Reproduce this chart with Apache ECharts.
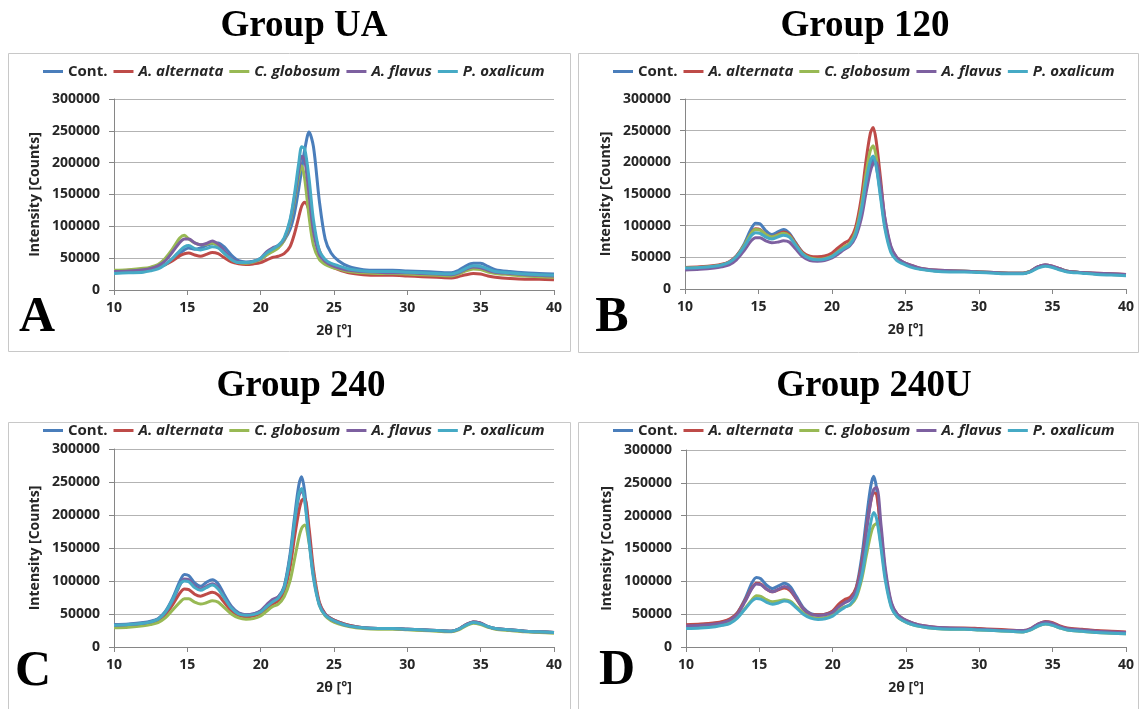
<!DOCTYPE html>
<html>
<head>
<meta charset="utf-8">
<script src="https://cdn.jsdelivr.net/npm/echarts@6/dist/echarts.min.js"></script>
<style>
  html, body { margin: 0; padding: 0; background: #fff; }
  #chart { width: 1139px; height: 709px; }
</style>
</head>
<body>
<div id="chart"></div>
<script>
// --- XRD patterns, 4 groups (values in thousands of counts) ---

const twoTheta = [10, 11, 12, 12.5, 13, 13.5, 14, 14.5,
    14.8, 15.1, 15.5, 15.9, 16.3, 16.7, 17.1, 17.5,
    18, 18.5, 19, 19.5, 20, 20.4, 20.8, 21.2,
    21.6, 22, 22.3, 22.6, 22.8, 23, 23.3, 23.6,
    24, 24.4, 24.8, 25.3, 26, 27, 28, 29,
    30, 31, 32, 33, 33.5, 34, 34.5, 35,
    35.5, 36, 37, 38, 39, 40];

const seriesNames = ['Cont.', 'A. alternata', 'C. globosum', 'A. flavus', 'P. oxalicum'];
const seriesColors = ['#4A7EBB', '#BE4B48', '#98B954', '#7D60A0', '#46AAC5'];
const panelTitles = ['Group UA', 'Group 120', 'Group 240', 'Group 240U'];
const panelLetters = ['A', 'B', 'C', 'D'];

// Group UA
const uaCont = [30, 30, 32, 33, 35, 40, 48, 58,
    63, 66, 64, 66, 70, 73, 74, 68,
    55, 46, 44, 45, 48, 55, 62, 67,
    78, 95, 120, 160, 190, 220, 248, 225,
    140, 80, 58, 46, 37, 32, 31, 31,
    30, 29, 28, 27, 31, 38, 42, 42,
    37, 32, 29, 27, 26, 25];
const uaAlt = [30, 31, 32, 33, 35, 40, 46, 54,
    57, 58, 55, 53, 56, 59, 57, 51,
    44, 41, 40, 41, 43, 47, 51, 53,
    57, 68, 88, 115, 132, 138, 125, 95,
    62, 44, 37, 32, 27, 24, 23, 23,
    22, 21, 20, 19, 21, 24, 26, 25,
    22, 20, 18, 17, 17, 16];
const uaGlob = [31, 32, 34, 36, 40, 50, 65, 82,
    86, 80, 74, 71, 72, 74, 68, 58,
    48, 43, 42, 44, 48, 55, 60, 66,
    78, 105, 140, 180, 195, 175, 115, 70,
    48, 40, 36, 33, 29, 27, 26, 26,
    25, 24, 23, 22, 25, 30, 33, 32,
    28, 26, 24, 22, 21, 20];
const uaFlav = [29, 30, 32, 34, 38, 46, 60, 75,
    80, 80, 74, 71, 73, 77, 72, 62,
    49, 44, 43, 45, 50, 60, 66, 70,
    80, 108, 145, 188, 210, 205, 150, 92,
    56, 45, 39, 35, 31, 29, 28, 27,
    27, 26, 25, 24, 27, 33, 36, 35,
    31, 28, 26, 24, 23, 22];
const uaOxal = [26, 27, 28, 30, 33, 40, 50, 62,
    68, 70, 65, 63, 65, 68, 66, 58,
    48, 43, 43, 45, 50, 58, 64, 70,
    82, 110, 150, 200, 225, 222, 175, 110,
    62, 48, 42, 38, 33, 30, 29, 29,
    28, 27, 26, 25, 28, 34, 38, 37,
    33, 29, 27, 25, 24, 23];

// Group 120
const g120Cont = [33, 34, 36, 38, 42, 52, 70, 95,
    104, 103, 92, 86, 90, 94, 88, 74,
    58, 50, 48, 49, 53, 60, 66, 72,
    88, 125, 165, 195, 205, 195, 150, 100,
    62, 48, 42, 37, 32, 29, 28, 28,
    27, 26, 25, 25, 28, 35, 38, 35,
    31, 28, 26, 24, 23, 22];
const g120Alt = [34, 35, 37, 39, 43, 52, 68, 88,
    95, 94, 86, 82, 86, 90, 86, 73,
    58, 52, 51, 52, 57, 65, 72, 78,
    97, 145, 200, 245, 255, 235, 175, 110,
    66, 50, 43, 38, 33, 30, 29, 28,
    27, 26, 25, 25, 28, 35, 38, 36,
    32, 28, 26, 25, 24, 23];
const g120Glob = [33, 34, 36, 38, 42, 51, 68, 88,
    94, 93, 86, 82, 85, 88, 84, 71,
    56, 49, 47, 48, 52, 59, 66, 72,
    90, 132, 180, 218, 226, 210, 158, 102,
    63, 48, 42, 37, 32, 29, 28, 28,
    27, 26, 25, 25, 28, 34, 37, 35,
    31, 28, 26, 24, 23, 22];
const g120Flav = [30, 31, 33, 35, 38, 46, 60, 76,
    81, 81, 76, 73, 74, 76, 74, 64,
    51, 45, 44, 45, 49, 55, 62, 68,
    82, 112, 150, 185, 198, 200, 165, 112,
    68, 50, 43, 38, 33, 30, 29, 28,
    27, 26, 25, 25, 28, 35, 38, 36,
    32, 28, 26, 25, 24, 23];
const g120Oxal = [33, 34, 36, 38, 42, 51, 66, 84,
    89, 88, 82, 79, 82, 85, 82, 70,
    55, 48, 46, 47, 51, 58, 64, 70,
    86, 125, 168, 202, 210, 195, 145, 95,
    58, 45, 40, 35, 31, 28, 27, 27,
    26, 25, 24, 24, 27, 33, 36, 34,
    30, 27, 25, 23, 22, 21];

// Group 240
const g240Cont = [34, 35, 37, 39, 43, 54, 74, 100,
    110, 108, 97, 92, 98, 102, 96, 80,
    62, 52, 49, 50, 54, 62, 70, 76,
    92, 140, 195, 245, 258, 235, 170, 110,
    66, 50, 43, 38, 33, 29, 28, 28,
    27, 26, 25, 24, 27, 34, 38, 36,
    31, 28, 26, 24, 23, 22];
const g240Alt = [32, 33, 35, 37, 40, 49, 64, 82,
    88, 87, 80, 77, 80, 83, 79, 68,
    55, 48, 46, 47, 51, 58, 65, 70,
    84, 120, 165, 205, 222, 225, 180, 118,
    68, 50, 43, 38, 33, 29, 28, 28,
    27, 26, 25, 24, 27, 34, 38, 36,
    31, 28, 26, 24, 23, 22];
const g240Glob = [29, 30, 32, 34, 37, 44, 56, 68,
    73, 73, 68, 65, 67, 70, 68, 60,
    50, 44, 42, 43, 47, 54, 61, 65,
    76, 100, 132, 165, 180, 185, 158, 110,
    64, 47, 40, 35, 31, 28, 27, 27,
    26, 25, 24, 23, 26, 32, 36, 34,
    30, 27, 25, 23, 22, 21];
const g240Flav = [33, 34, 36, 38, 42, 52, 70, 94,
    103, 102, 92, 88, 92, 96, 90, 76,
    60, 51, 49, 50, 55, 64, 72, 76,
    90, 135, 185, 228, 237, 225, 165, 108,
    65, 49, 42, 37, 32, 29, 28, 28,
    27, 26, 25, 24, 27, 34, 38, 36,
    31, 28, 26, 24, 23, 22];
const g240Oxal = [33, 34, 36, 38, 42, 53, 72, 95,
    100, 99, 90, 86, 90, 94, 88, 75,
    59, 50, 48, 49, 53, 61, 68, 74,
    90, 135, 188, 232, 240, 222, 160, 104,
    63, 48, 42, 37, 32, 29, 28, 28,
    27, 26, 25, 24, 27, 33, 37, 35,
    31, 28, 26, 24, 23, 22];

// Group 240U
const g240uCont = [33, 34, 36, 38, 42, 52, 72, 98,
    106, 104, 94, 89, 93, 97, 92, 78,
    60, 51, 49, 50, 54, 62, 68, 74,
    90, 140, 195, 245, 260, 240, 170, 108,
    64, 49, 42, 37, 32, 29, 28, 28,
    27, 26, 25, 24, 27, 34, 37, 35,
    31, 28, 26, 24, 23, 22];
const g240uAlt = [34, 35, 37, 39, 43, 52, 70, 90,
    97, 96, 88, 84, 87, 90, 86, 74,
    58, 50, 49, 50, 55, 65, 72, 76,
    90, 130, 180, 222, 235, 232, 175, 112,
    66, 50, 43, 38, 33, 30, 29, 29,
    28, 27, 26, 25, 28, 35, 39, 37,
    32, 29, 27, 25, 24, 23];
const g240uGlob = [29, 30, 32, 34, 37, 45, 58, 72,
    78, 77, 72, 69, 70, 72, 70, 62,
    52, 46, 44, 45, 49, 56, 61, 64,
    75, 105, 140, 172, 185, 188, 155, 105,
    62, 46, 40, 35, 31, 28, 27, 27,
    26, 25, 24, 23, 26, 32, 35, 33,
    29, 26, 24, 22, 21, 20];
const g240uFlav = [32, 33, 35, 37, 41, 50, 68, 89,
    96, 95, 88, 84, 88, 92, 88, 75,
    58, 50, 48, 49, 53, 61, 67, 72,
    86, 125, 175, 222, 240, 243, 185, 118,
    68, 50, 43, 38, 33, 30, 29, 28,
    27, 26, 25, 25, 28, 35, 38, 36,
    31, 28, 26, 24, 23, 22];
const g240uOxal = [28, 29, 31, 33, 36, 44, 57, 70,
    74, 73, 68, 65, 67, 70, 68, 60,
    50, 44, 42, 43, 47, 54, 60, 65,
    78, 110, 150, 190, 205, 195, 150, 100,
    60, 46, 40, 35, 31, 28, 27, 27,
    26, 25, 24, 23, 26, 32, 35, 33,
    29, 26, 24, 22, 21, 20];

const panelData = [
    [uaCont, uaAlt, uaGlob, uaFlav, uaOxal],
    [g120Cont, g120Alt, g120Glob, g120Flav, g120Oxal],
    [g240Cont, g240Alt, g240Glob, g240Flav, g240Oxal],
    [g240uCont, g240uAlt, g240uGlob, g240uFlav, g240uOxal]
];

// layout of the four panels
const grids = [
    { left: 114, top: 99, width: 440, height: 191 },
    { left: 685, top: 99, width: 441, height: 190 },
    { left: 114, top: 449, width: 440, height: 198 },
    { left: 686, top: 450, width: 440, height: 197 }
];
const boxes = [
    { x: 8.5, y: 53.5, width: 562, height: 298 },
    { x: 578.5, y: 53.5, width: 560, height: 299 },
    { x: 8.5, y: 422.5, width: 562, height: 300 },
    { x: 578.5, y: 422.5, width: 560, height: 300 }
];
const titlePos = [[304, 26], [865, 26], [301, 386], [874, 386]];
const letterPos = [[37, 318], [612, 318], [33, 672], [617, 671]];
const legendPos = [[43, 64], [613, 64], [43, 423], [613, 423]];

const labelFont = 'Open Sans';
const textColor = '#262626';

const chart = echarts.init(document.getElementById('chart'));

const xAxes = grids.map((g, i) => ({
    type: 'value',
    gridIndex: i,
    min: 10,
    max: 40,
    interval: 5,
    name: '2θ [°]',
    nameLocation: 'middle',
    nameGap: 34,
    nameTextStyle: { fontFamily: labelFont, fontWeight: 'bold', fontSize: 14, color: textColor },
    axisLine: { show: true, onZero: false, lineStyle: { color: '#868686', width: 1 } },
    axisTick: { show: true, length: 5, lineStyle: { color: '#868686' } },
    axisLabel: { fontFamily: labelFont, fontWeight: 'bold', fontSize: 14, color: textColor, margin: 11 },
    splitLine: { show: false }
}));

const yAxes = grids.map((g, i) => ({
    type: 'value',
    gridIndex: i,
    min: 0,
    max: 300000,
    interval: 50000,
    name: 'Intensity [Counts]',
    nameLocation: 'middle',
    nameGap: 72,
    nameTextStyle: { fontFamily: labelFont, fontWeight: 'bold', fontSize: 14, color: textColor },
    axisLine: { show: true, lineStyle: { color: '#868686', width: 1 } },
    axisTick: { show: true, length: 5, lineStyle: { color: '#868686' } },
    axisLabel: {
        fontFamily: labelFont, fontWeight: 'bold', fontSize: 14, color: textColor, margin: 14,
        formatter: v => String(v)
    },
    splitLine: { show: true, lineStyle: { color: '#b3b3b3', width: 1 } }
}));

const series = [];
panelData.forEach((sets, p) => {
    sets.forEach((vals, s) => {
        series.push({
            type: 'line',
            name: seriesNames[s],
            xAxisIndex: p,
            yAxisIndex: p,
            data: twoTheta.map((x, k) => [x, vals[k] * 1000]),
            showSymbol: false,
            smooth: 0.3,
            color: seriesColors[s],
            lineStyle: { width: 3, color: seriesColors[s] },
            emphasis: { disabled: true }
        });
    });
});

const legends = legendPos.map(([x, y]) => ({
    left: x,
    top: y,
    padding: 0,
    itemGap: 6,
    itemWidth: 20,
    itemHeight: 3,
    icon: 'rect',
    data: seriesNames,
    formatter: name => (name === 'Cont.' ? '{n|' + name + '}' : '{i|' + name + '}'),
    textStyle: {
        fontFamily: labelFont,
        fontSize: 15,
        fontWeight: 'bold',
        color: textColor,
        rich: {
            n: { fontFamily: labelFont, fontSize: 15, fontWeight: 'bold', color: textColor },
            i: { fontFamily: labelFont, fontSize: 15, fontWeight: 'bold', fontStyle: 'italic', color: textColor }
        }
    }
}));

const graphics = [];
boxes.forEach(b => {
    graphics.push({
        type: 'rect',
        shape: b,
        style: { fill: 'none', stroke: '#c8c8c8', lineWidth: 1 },
        silent: true,
        z: -1
    });
});
panelTitles.forEach((t, i) => {
    graphics.push({
        type: 'text',
        x: titlePos[i][0],
        y: titlePos[i][1],
        style: {
            text: t,
            font: 'bold 37px "Liberation Serif"',
            fill: '#000',
            textAlign: 'center',
            textVerticalAlign: 'middle'
        }
    });
});
panelLetters.forEach((t, i) => {
    graphics.push({
        type: 'text',
        x: letterPos[i][0],
        y: letterPos[i][1],
        style: {
            text: t,
            font: 'bold 50px "Liberation Serif"',
            fill: '#000',
            textAlign: 'center',
            textVerticalAlign: 'middle'
        }
    });
});

chart.setOption({
    animation: false,
    backgroundColor: '#fff',
    grid: grids,
    xAxis: xAxes,
    yAxis: yAxes,
    legend: legends,
    series: series,
    graphic: graphics
});
</script>
</body>
</html>
